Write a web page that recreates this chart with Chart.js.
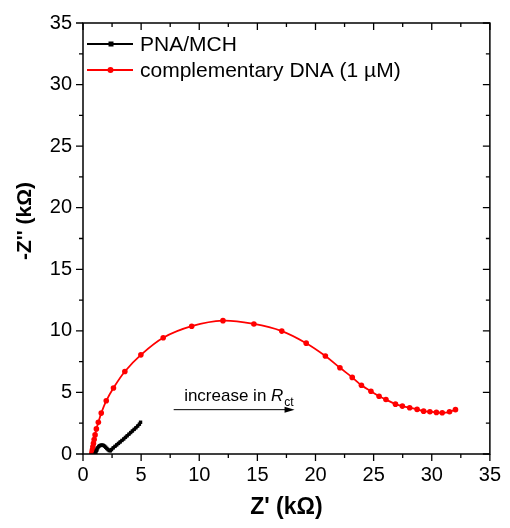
<!DOCTYPE html>
<html>
<head>
<meta charset="utf-8">
<script src="https://cdn.jsdelivr.net/npm/chart.js@4.4.0/dist/chart.umd.min.js"></script>
<style>
  html, body { margin: 0; padding: 0; background: #fff; }
  canvas { display: block; }
</style>
</head>
<body>
<canvas id="chart-nyquist" width="510" height="528"></canvas>
<script>
// Data, Z' and -Z'' in kOhm
const pnaX = [1.05, 1.1, 1.15, 1.2, 1.28, 1.36, 1.45, 1.55, 1.65, 1.75, 1.85, 1.95, 2.05, 2.15, 2.25, 2.35, 2.45, 2.6, 2.75, 2.9, 3.05, 3.2, 3.35, 3.5, 3.65, 3.8, 3.95, 4.1, 4.25, 4.4, 4.55, 4.7, 4.85, 4.95];
const pnaY = [0.02, 0.15, 0.28, 0.4, 0.52, 0.62, 0.68, 0.72, 0.72, 0.7, 0.64, 0.55, 0.45, 0.36, 0.28, 0.26, 0.36, 0.5, 0.62, 0.74, 0.86, 0.98, 1.1, 1.22, 1.35, 1.48, 1.61, 1.74, 1.87, 2.0, 2.13, 2.27, 2.42, 2.58];

const dnaX = [0.77, 0.79, 0.81, 0.85, 0.9, 0.96, 1.04, 1.15, 1.32, 1.57, 2.0, 2.62, 3.6, 4.98, 6.9, 9.35, 12.04, 14.7, 17.1, 19.2, 20.85, 22.1, 23.16, 23.95, 24.77, 25.47, 26.06, 26.88, 27.47, 28.1, 28.74, 29.3, 29.84, 30.4, 30.9, 31.53, 32.04];
const dnaY = [0.05, 0.18, 0.35, 0.59, 0.86, 1.18, 1.55, 2.04, 2.57, 3.32, 4.32, 5.36, 6.7, 8.05, 9.44, 10.38, 10.83, 10.56, 9.98, 9.0, 7.96, 7.0, 6.22, 5.58, 5.09, 4.69, 4.42, 4.05, 3.89, 3.76, 3.62, 3.48, 3.43, 3.38, 3.35, 3.43, 3.6];

const seriesNames = ['PNA/MCH', 'complementary DNA (1 µM)'];
const tickLabels = ['0', '5', '10', '15', '20', '25', '30', '35'];
const xTitle = "Z' (kΩ)";
const yTitle = "-Z'' (kΩ)";
const noteText = 'increase in ';

const toPoints = (xs, ys) => xs.map((x, i) => ({x: x, y: ys[i]}));
const tickFont = {family: 'Arial, "Liberation Sans", sans-serif', size: 20};

// box, mirrored ticks, titles, legend and the arrow note
const extras = {
  id: 'extras',
  afterDraw(chart) {
    const {ctx, chartArea: a, scales: {x, y}} = chart;
    ctx.save();
    ctx.strokeStyle = '#000';
    ctx.lineWidth = 1.5;
    ctx.strokeRect(a.left, a.top, a.right - a.left, a.bottom - a.top);

    ctx.lineWidth = 1.3;
    for (let v = x.min; v <= x.max; v += 2.5) {
      const len = v % 5 === 0 ? 7 : 4;
      const px = x.getPixelForValue(v), py = y.getPixelForValue(v);
      ctx.beginPath();
      ctx.moveTo(px, a.bottom); ctx.lineTo(px, a.bottom + len);
      ctx.moveTo(px, a.top); ctx.lineTo(px, a.top + len);
      ctx.moveTo(a.left, py); ctx.lineTo(a.left - len, py);
      ctx.moveTo(a.right, py); ctx.lineTo(a.right - len, py);
      ctx.stroke();
    }

    // axis titles
    ctx.fillStyle = '#000';
    ctx.textAlign = 'center';
    ctx.textBaseline = 'middle';
    ctx.font = 'bold 23px Arial, "Liberation Sans", sans-serif';
    ctx.fillText(xTitle, (a.left + a.right) / 2, 508);
    ctx.save();
    ctx.font = 'bold 21px Arial, "Liberation Sans", sans-serif';
    ctx.translate(25, 221);
    ctx.rotate(-Math.PI / 2);
    ctx.fillText(yTitle, 0, 0);
    ctx.restore();

    // legend
    ctx.font = '21px Arial, "Liberation Sans", sans-serif';
    ctx.textAlign = 'left';
    chart.data.datasets.forEach((ds, i) => {
      const ly = 44 + i * 26;
      ctx.strokeStyle = ds.borderColor;
      ctx.lineWidth = 2;
      ctx.beginPath();
      ctx.moveTo(87, ly); ctx.lineTo(133, ly);
      ctx.stroke();
      ctx.fillStyle = ds.borderColor;
      if (ds.pointStyle === 'rect') {
        ctx.fillRect(108.5, ly - 2.5, 5, 5);
      } else {
        ctx.beginPath();
        ctx.arc(110.5, ly, 3, 0, Math.PI * 2);
        ctx.fill();
      }
      ctx.fillStyle = '#000';
      ctx.fillText(ds.label, 140, ly + 1);
    });

    // arrow note
    const ax0 = x.getPixelForValue(7.8), ax1 = x.getPixelForValue(18.2), ay = y.getPixelForValue(3.6);
    ctx.strokeStyle = '#000';
    ctx.lineWidth = 1;
    ctx.beginPath();
    ctx.moveTo(ax0, ay); ctx.lineTo(ax1 - 6, ay);
    ctx.stroke();
    ctx.fillStyle = '#000';
    ctx.beginPath();
    ctx.moveTo(ax1, ay); ctx.lineTo(ax1 - 10, ay - 3); ctx.lineTo(ax1 - 10, ay + 3);
    ctx.closePath();
    ctx.fill();

    const tx = x.getPixelForValue(8.7), ty = y.getPixelForValue(4.3);
    ctx.textBaseline = 'alphabetic';
    ctx.font = '17px Arial, "Liberation Sans", sans-serif';
    ctx.fillText(noteText, tx, ty);
    let w = ctx.measureText(noteText).width;
    ctx.font = 'italic 17px Arial, "Liberation Sans", sans-serif';
    ctx.fillText('R', tx + w, ty);
    w += ctx.measureText('R').width;
    ctx.font = '12px Arial, "Liberation Sans", sans-serif';
    ctx.fillText('ct', tx + w + 1, ty + 5);
    ctx.restore();
  }
};

!function(){
  const ctx = document.getElementById('chart-nyquist');

  new Chart(ctx, {
    type: 'scatter',
    data: {
      datasets: [{
        label: seriesNames[0],
        data: toPoints(pnaX, pnaY),
        showLine: true,
        borderColor: '#000000',
        backgroundColor: '#000000',
        borderWidth: 2.8,
        pointStyle: 'rect',
        pointRadius: 2.4,
        pointBorderWidth: 0,
        tension: 0
      }, {
        label: seriesNames[1],
        data: toPoints(dnaX, dnaY),
        showLine: true,
        borderColor: '#ff0000',
        backgroundColor: '#ff0000',
        borderWidth: 1.8,
        pointStyle: 'circle',
        pointRadius: 2.8,
        pointBorderWidth: 0,
        tension: 0.35
      }]
    },
    options: {
      responsive: false,
      animation: false,
      layout: {padding: {left: 0, right: 13, top: 19, bottom: 0}},
      plugins: {legend: {display: false}, tooltip: {enabled: false}},
      scales: {
        x: {
          type: 'linear', min: 0, max: 35,
          grid: {display: false, drawTicks: false},
          border: {display: false},
          ticks: {stepSize: 5, padding: 9, color: '#000', font: tickFont,
            callback: (v, i) => tickLabels[i]},
          afterFit: (s) => { s.height = 74; }
        },
        y: {
          type: 'linear', min: 0, max: 35,
          grid: {display: false, drawTicks: false},
          border: {display: false},
          ticks: {stepSize: 5, padding: 11, color: '#000', font: tickFont,
            callback: (v, i) => tickLabels[i]},
          afterFit: (s) => { s.width = 83; }
        }
      }
    },
    plugins: [extras]
  });
}();
</script>
</body>
</html>
